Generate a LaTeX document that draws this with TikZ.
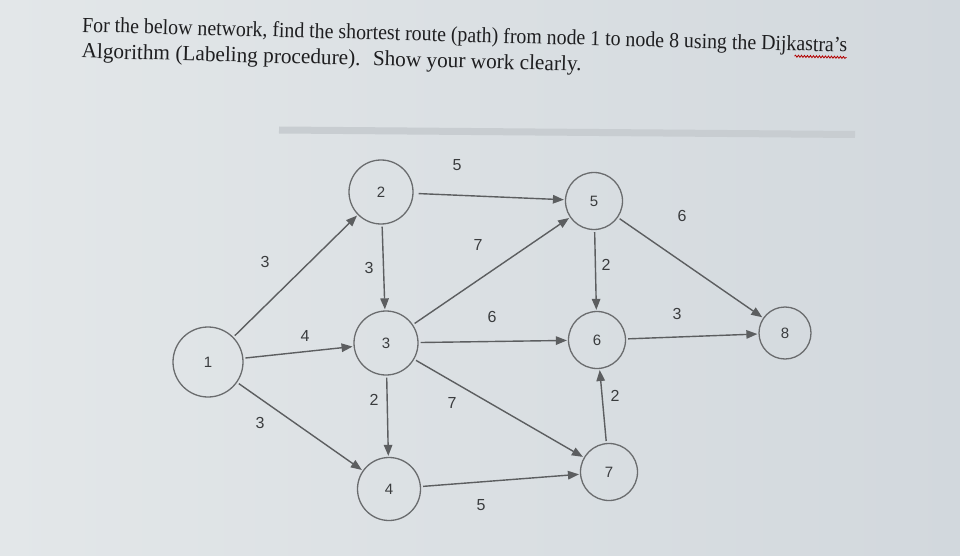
\documentclass[tikz,border=0pt]{standalone}
\usepackage{fontspec}
\setmainfont{Liberation Serif}
\newfontfamily\arialf{Liberation Sans}
\usetikzlibrary{arrows.meta,decorations.pathmorphing}
\definecolor{bgL}{HTML}{E3E7E9}
\definecolor{bgR}{HTML}{D2D8DD}
\definecolor{edgec}{HTML}{5C5E60}
\definecolor{ringc}{HTML}{6A6C6E}
\definecolor{numc}{HTML}{3A3C3E}
\definecolor{titlec}{HTML}{1E1E20}
\definecolor{bandc}{HTML}{C8CDD1}
\tikzset{
  vert/.style={circle,draw=ringc,line width=1.3pt,fill=none,inner sep=0pt,
    font=\arialf\fontsize{15}{15}\selectfont,text=numc},
  wlab/.style={font=\arialf\fontsize{16}{16}\selectfont,text=numc,inner sep=0pt},
  arc/.style={draw=edgec,line width=1.4pt,shorten <=2pt,shorten >=1pt,
    -{Triangle[length=11pt,width=8.5pt]}},
  titletext/.style={font=\fontsize{21.5}{21.5}\selectfont,text=titlec,inner sep=0pt,anchor=base west}
}
\begin{document}
\begin{tikzpicture}[x=1pt,y=-1pt]
\useasboundingbox (0,0) rectangle (960,556);
\shade[left color=bgL,right color=bgR] (0,0) rectangle (960,556);
% grey band
\draw[bandc,line width=7pt] (279,130) -- (855,134.5);
% title
\begin{scope}[rotate around={-1.5:(82,32)},transform shape]
\node[titletext] (t1) at (82,32) {\resizebox{765pt}{\height}{For the below network, find the shortest route (path) from node 1 to node 8 using the Dijkastra's}};
\node[titletext] (t2) at (82,58) {\resizebox{500pt}{\height}{Algorithm (Labeling procedure).~ Show your work clearly.}};
\coordinate (sqa) at (795,37.5);
\coordinate (sqb) at (847,37.5);
\draw[red!70!black,line width=0.8pt,decorate,decoration={snake,amplitude=1pt,segment length=3pt}] (sqa) -- (sqb);
\end{scope}
% nodes
\node[vert,minimum size=70pt] (n1) at (208,362) {1};
\node[vert,minimum size=64pt] (n2) at (381,192) {2};
\node[vert,minimum size=64pt] (n3) at (386,343) {3};
\node[vert,minimum size=63pt] (n4) at (389,489) {4};
\node[vert,minimum size=57pt] (n5) at (594,201) {5};
\node[vert,minimum size=57pt] (n6) at (597,340) {6};
\node[vert,minimum size=57pt] (n7) at (609,472) {7};
\node[vert,minimum size=52pt] (n8) at (785,333) {8};
% arcs
\draw[arc] (n1) -- (n2);
\draw[arc] (n1) -- (n3);
\draw[arc] (n1) -- (n4);
\draw[arc] (n2) -- (n3);
\draw[arc] (n3) -- (n4);
\draw[arc,shorten <=5pt] (n2) -- (n5);
\draw[arc] (n3) -- (n5);
\draw[arc] (n3) -- (n6);
\draw[arc] (n3) -- (n7);
\draw[arc] (n4) -- (n7);
\draw[arc] (n5) -- (n6);
\draw[arc] (n7) -- (n6);
\draw[arc] (n5) -- (n8);
\draw[arc] (n6) -- (n8);
% weights
\node[wlab] (w12) at (265,262) {3};
\node[wlab] (w13) at (305,336) {4};
\node[wlab] (w14) at (260,423) {3};
\node[wlab] (w23) at (369,268) {3};
\node[wlab] (w34) at (374,400) {2};
\node[wlab] (w25) at (457,165) {5};
\node[wlab] (w35) at (478,245) {7};
\node[wlab] (w36) at (492,317) {6};
\node[wlab] (w37) at (452,403) {7};
\node[wlab] (w47) at (481,505) {5};
\node[wlab] (w56) at (606,265) {2};
\node[wlab] (w76) at (615,396) {2};
\node[wlab] (w58) at (682,216) {6};
\node[wlab] (w68) at (677,314) {3};
\end{tikzpicture}
\end{document}
